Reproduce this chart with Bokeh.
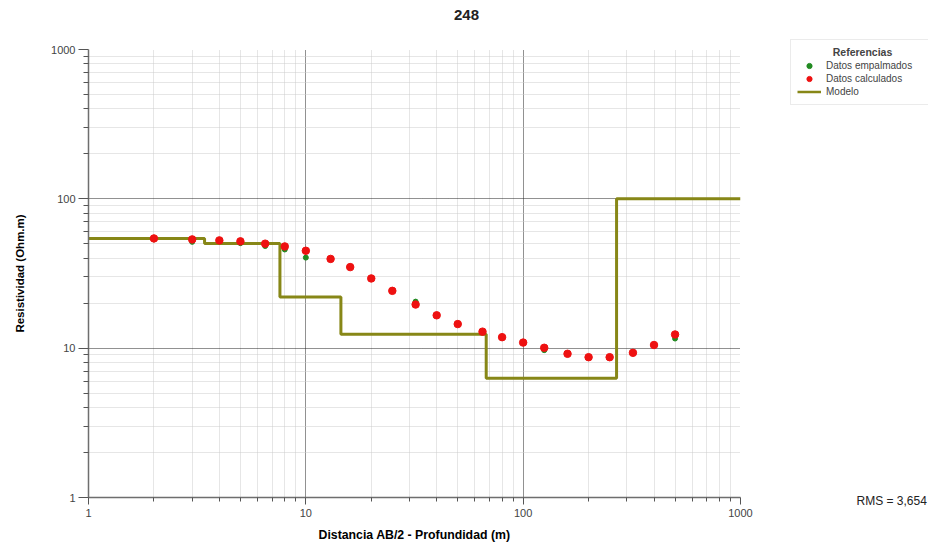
from bokeh.plotting import figure
from bokeh.models import (FixedTicker, Legend, LegendItem, Label, ColumnDataSource, Range1d)
from bokeh.embed import file_html
from bokeh.resources import INLINE

# ---- data ----
ab2 = [2, 3, 4, 5, 6.5, 8, 10, 13, 16, 20, 25, 32, 40, 50, 65, 80, 100, 125, 160, 200, 250, 320, 400, 500]
rho_empalmados = [53.5, 51.5, 52.5, 50.5, 48.3, 45.8, 40.4, 39.6, 34.9, 29.3, 24.2, 20.5, 16.6, 14.5, 12.9, 11.7, 10.9, 9.7, 9.17, 8.7, 8.7, 9.3, 10.5, 11.6]
rho_calculados = [54.3, 53.5, 52.7, 51.9, 50.1, 48.0, 44.9, 39.6, 34.9, 29.3, 24.2, 19.6, 16.6, 14.5, 12.9, 11.85, 10.9, 10.06, 9.17, 8.7, 8.7, 9.31, 10.5, 12.35]
model_depth = [1, 3.42, 7.6, 14.5, 67.6, 269, 1000]
model_rho = [54.2, 50.2, 22.0, 12.4, 6.3, 100, 100]
major_ticks = [1, 10, 100, 1000]
major_labels = ["1", "10", "100", "1000"]
title_text = "248"
rms_text = "RMS = 3,654"
legend_title = "Referencias"
legend_labels = ["Datos empalmados", "Datos calculados", "Modelo"]

minor = [m * d for d in [1, 10, 100] for m in range(2, 10)]

FONT = "Liberation Sans"
C_EMP = "#228b22"
C_CALC = "#ee1111"
C_MOD = "#878717"

W, H = 928, 545

p = figure(x_axis_type="log", y_axis_type="log",
           x_range=(1, 1000), y_range=(1, 1000),
           frame_width=652, frame_height=448,
           min_border_left=88, min_border_right=W - 88 - 652,
           min_border_top=49, min_border_bottom=H - 49 - 448,
           output_backend="svg", toolbar_location=None,
           background_fill_color="white", border_fill_color="white")
p.outline_line_color = None

# grids
for g in (p.xgrid, p.ygrid):
    g.ticker = FixedTicker(ticks=major_ticks, minor_ticks=minor)
    g.grid_line_color = "#222222"
    g.grid_line_dash = "1 1"
    g.minor_grid_line_color = "#cccccc"
    g.minor_grid_line_dash = "1 1"

# axes
for ax in (p.xaxis[0], p.yaxis[0]):
    ax.ticker = FixedTicker(ticks=major_ticks, minor_ticks=minor)
    ax.major_label_overrides = {t: l for t, l in zip(major_ticks, major_labels)}
    ax.axis_line_color = "#6e6e6e"
    ax.axis_line_width = 1.5
    ax.major_tick_line_color = "#555555"
    ax.minor_tick_line_color = "#555555"
    ax.major_tick_in = 0
    ax.minor_tick_in = 0
    ax.major_label_text_font = FONT
    ax.major_label_text_font_size = "11px"
    ax.major_label_text_color = "#444444"
    ax.axis_label_text_font = FONT
    ax.axis_label_text_font_style = "bold"
    ax.axis_label_text_color = "#000000"

p.xaxis.axis_label = "Distancia AB/2 - Profundidad (m)"
p.yaxis.axis_label = "Resistividad (Ohm.m)"
p.xaxis.axis_label_text_font_size = "12.3px"
p.yaxis.axis_label_text_font_size = "11.5px"
p.xaxis.major_tick_out = 7
p.xaxis.minor_tick_out = 4
p.xaxis.major_label_standoff = 4
p.xaxis.axis_label_standoff = 8
p.yaxis.major_tick_out = 10
p.yaxis.minor_tick_out = 5
p.yaxis.major_label_standoff = 3
p.yaxis.axis_label_standoff = 22

# data
src = ColumnDataSource(dict(x=ab2, emp=rho_empalmados, calc=rho_calculados))
p.step(x=model_depth, y=model_rho, mode="after", line_color=C_MOD, line_width=3)
p.scatter("x", "emp", source=src, size=5, color=C_EMP)
p.scatter("x", "calc", source=src, size=7.5, color=C_CALC)

# ---- transparent overlay (pixel coordinates, y downward) for title, legend, RMS ----
q = figure(width=W, height=H, x_range=Range1d(0, W), y_range=Range1d(H, 0),
           min_border=0, output_backend="svg", toolbar_location=None,
           x_axis_location=None, y_axis_location=None,
           background_fill_alpha=0, border_fill_alpha=0)
q.grid.visible = False
q.outline_line_color = None
q.styles = {"position": "absolute", "left": "0px", "top": "0px", "z-index": "5",
            "pointer-events": "none"}

# legend swatch renderers (hidden; only their legend glyphs are shown)
g_emp = q.scatter(x=[ab2[0]], y=[rho_empalmados[0]], size=3.2, color=C_EMP, visible=False)
g_calc = q.scatter(x=[ab2[0]], y=[rho_calculados[0]], size=4, color=C_CALC, visible=False)
g_mod = q.line(x=model_depth[:2], y=model_rho[:2], line_color=C_MOD, line_width=2.5, visible=False)

legend = Legend(items=[LegendItem(label=legend_labels[0], renderers=[g_emp]),
                       LegendItem(label=legend_labels[1], renderers=[g_calc]),
                       LegendItem(label=legend_labels[2], renderers=[g_mod])],
                location=(790, H - 105), title=" ",
                label_text_font=FONT, label_text_font_size="10px",
                title_text_font_size="10.5px", title_standoff=1,
                glyph_width=24, glyph_height=13, label_height=13, label_width=96,
                label_standoff=5, spacing=0, padding=6, margin=0,
                border_line_color="#d8d8d8", background_fill_alpha=0,
                inactive_fill_alpha=0)
q.add_layout(legend, "center")

q.add_layout(Label(x=862, y=51, text=legend_title,
                   text_font=FONT, text_font_size="10.5px", text_font_style="bold",
                   text_align="center", text_baseline="middle"))

q.add_layout(Label(x=466, y=14, text=title_text,
                   text_font=FONT, text_font_size="15px", text_font_style="bold",
                   text_color="#222222", text_align="center", text_baseline="middle"))

q.add_layout(Label(x=856, y=500, text=rms_text,
                   text_font=FONT, text_font_size="12px", text_color="#222222",
                   text_align="left", text_baseline="middle"))

open("out.html", "w").write(file_html([p, q], INLINE))
